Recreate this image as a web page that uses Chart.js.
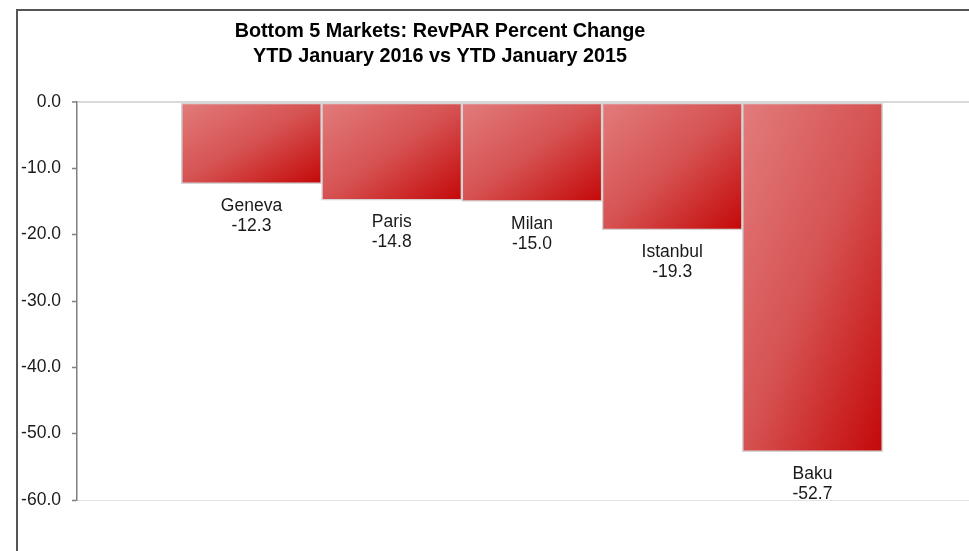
<!DOCTYPE html>
<html>
<head>
<meta charset="utf-8">
<script src="https://cdn.jsdelivr.net/npm/chart.js@4/dist/chart.umd.min.js"></script>
<style>
  html, body { margin: 0; padding: 0; background: #fff; overflow: hidden; }
  #frame { position: absolute; left: 16px; top: 9px; width: 1000px; height: 600px;
           border-left: 2px solid #555; border-top: 2px solid #555; }
  #wrap { position: absolute; left: 0; top: 0; width: 969px; height: 551px; }
</style>
</head>
<body>
<div id="frame"></div>
<div id="wrap"><canvas id="chart"></canvas></div>
<script>
const titleLines = ["Bottom 5 Markets: RevPAR Percent Change", "YTD January 2016 vs YTD January 2015"];
const markets = ["Geneva", "Paris", "Milan", "Istanbul", "Baku"];
const revparChange = [-12.3, -14.8, -15.0, -19.3, -52.7];
const yTicks = [0, -10, -20, -30, -40, -50, -60];

const FONT = '"Liberation Sans", Arial, sans-serif';

// diagonal gradient per bar, light top-left to dark red bottom-right
function barFill(ctx) {
  const chart = ctx.chart;
  if (ctx.type !== "data" || !chart.chartArea) return "#d44a4a";
  const { x, y } = chart.scales;
  const i = ctx.dataIndex;
  const w = x.getPixelForValue(1) - x.getPixelForValue(0);
  const left = x.getPixelForValue(i) - w / 2;
  const top = y.getPixelForValue(0);
  const h = y.getPixelForValue(revparChange[i]) - top;
  const k = (2 * w * h) / (w * w + h * h);
  const g = chart.ctx.createLinearGradient(left, top, left + h * k, top + w * k);
  g.addColorStop(0, "#e27c7c");
  g.addColorStop(0.5, "#d65252");
  g.addColorStop(1, "#c40808");
  return g;
}

const titlePlugin = {
  id: "titleText",
  afterDraw(chart) {
    const c = chart.ctx;
    c.save();
    c.font = "bold 19.8px " + FONT;
    c.fillStyle = "#000";
    c.textAlign = "center";
    c.textBaseline = "alphabetic";
    c.fillText(titleLines[0], 440, 37);
    c.fillText(titleLines[1], 440, 62);
    c.restore();
  },
};

const barLabels = {
  id: "barLabels",
  afterDatasetsDraw(chart) {
    const c = chart.ctx;
    const meta = chart.getDatasetMeta(0);
    c.save();
    c.font = "17.5px " + FONT;
    c.fillStyle = "#1a1a1a";
    c.textAlign = "center";
    c.textBaseline = "alphabetic";
    meta.data.forEach((bar, i) => {
      c.fillText(markets[i], bar.x, bar.y + 27);
      c.fillText(revparChange[i].toFixed(1), bar.x, bar.y + 47);
    });
    c.restore();
  },
};

new Chart(document.getElementById("chart"), {
  type: "bar",
  data: {
    datasets: [
      {
        data: markets.map((m, i) => ({ x: i, y: revparChange[i] })),
        backgroundColor: barFill,
        borderColor: "#d4d4d4",
        borderWidth: 1.5,
        borderSkipped: false,
        barPercentage: 1,
        categoryPercentage: 1,
      },
    ],
  },
  options: {
    responsive: true,
    maintainAspectRatio: false,
    animation: false,
    layout: { padding: { left: 17, top: 102, right: 0, bottom: 51 } },
    plugins: { legend: { display: false }, tooltip: { enabled: false }, title: { display: false } },
    scales: {
      x: { type: "linear", min: -1.244, max: 5.116, offset: false, display: false },
      y: {
        min: -60,
        max: 0,
        afterFit(scale) { scale.width = 60; },
        afterBuildTicks(scale) { scale.ticks = yTicks.map((v) => ({ value: v })); },
        ticks: {
          padding: 11,
          color: "#1a1a1a",
          font: { family: FONT, size: 17.5 },
          callback: (v) => Number(v).toFixed(1),
        },
        grid: {
          color: (ctx) => {
            if (!ctx.tick) return "rgba(0,0,0,0)";
            if (ctx.tick.value === 0) return "#d9d9d9";
            if (ctx.tick.value === -60) return "#e4e4e4";
            return "rgba(0,0,0,0)";
          },
          lineWidth: (ctx) => (ctx.tick && ctx.tick.value === 0 ? 2 : 1),
          tickLength: 5,
          tickColor: "#808080",
          tickWidth: 1.5,
        },
        border: { color: "#808080", width: 1.5 },
      },
    },
  },
  plugins: [titlePlugin, barLabels],
});
</script>
</body>
</html>
